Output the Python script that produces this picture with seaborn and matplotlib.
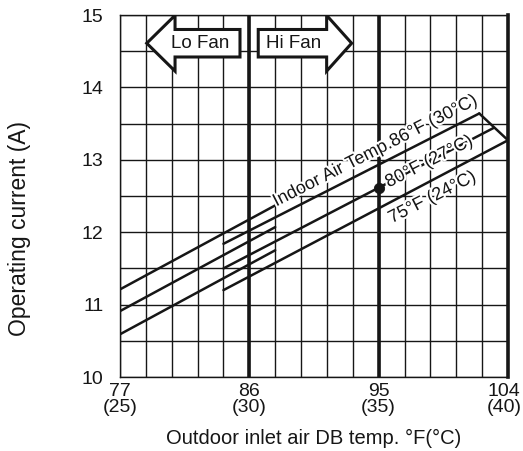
import math

import matplotlib
matplotlib.use("Agg")
import matplotlib.patheffects as pe
import matplotlib.pyplot as plt
import matplotlib.transforms as mtransforms
import numpy as np
import pandas as pd
import seaborn as sns

# Lo fan lines (outdoor fan low), 77°F .. 87.8°F
lo_fan_x = [77.0, 87.8]
lo_86_current = [11.21, 12.37]
lo_80_current = [10.91, 12.07]
lo_75_current = [10.59, 11.75]

# Hi fan lines, from 84.2°F up to the limit line
hi_86_x = [84.2, 102.0]
hi_86_current = [11.84, 13.64]
hi_80_x = [84.2, 103.0]
hi_80_current = [11.50, 13.44]
hi_75_x = [84.2, 104.0]
hi_75_current = [11.20, 13.27]

limit_x = [102.0, 104.0]
limit_current = [13.64, 13.27]

rated_x = [95.0]
rated_current = [12.61]

x_ticks_f = [77, 86, 95, 104]
x_ticks_c = [25, 30, 35, 40]
y_ticks = [10, 11, 12, 13, 14, 15]

INK = "#161616"


def build_frame() -> pd.DataFrame:
    segments = [
        ("lo86", lo_fan_x, lo_86_current),
        ("lo80", lo_fan_x, lo_80_current),
        ("lo75", lo_fan_x, lo_75_current),
        ("hi86", hi_86_x, hi_86_current),
        ("hi80", hi_80_x, hi_80_current),
        ("hi75", hi_75_x, hi_75_current),
        ("limit", limit_x, limit_current),
    ]
    rows = []
    for name, xs, ys in segments:
        for x, y in zip(xs, ys):
            rows.append({"segment": name, "outdoor_f": x, "current": y})
    return pd.DataFrame(rows)


def line_angle(ax, xs, ys) -> float:
    p1 = ax.transData.transform((xs[0], ys[0]))
    p2 = ax.transData.transform((xs[1], ys[1]))
    return math.degrees(math.atan2(p2[1] - p1[1], p2[0] - p1[0]))


def on_line(xs, ys, x):
    return ys[0] + (ys[1] - ys[0]) * (x - xs[0]) / (xs[1] - xs[0])


sns.set_theme(style="white")
plt.rcParams["font.family"] = ["Liberation Sans", "DejaVu Sans"]
plt.rcParams["text.color"] = INK

fig = plt.figure(figsize=(5.23, 4.51), dpi=100)
ax = fig.add_axes([120 / 523, 1 - 377 / 451, 388 / 523, 362 / 451])
ax.set_xlim(77, 104)
ax.set_ylim(10, 15)

# grid: every 1 °C horizontally, every 0.5 A vertically
ax.set_xticks(x_ticks_f)
ax.set_xticklabels([f"{f}\n({c})" for f, c in zip(x_ticks_f, x_ticks_c)], linespacing=0.95)
ax.set_xticks(np.arange(77, 104.01, 1.8), minor=True)
ax.set_yticks(y_ticks)
ax.set_yticks(np.arange(10, 15.01, 0.5), minor=True)
ax.grid(which="both", color=INK, linewidth=1.0)
ax.tick_params(which="both", length=0, labelsize=14, colors=INK)
ax.tick_params(axis="y", pad=12)
ax.tick_params(axis="x", pad=4)
# keep the last label inside the canvas
last = ax.get_xticklabels()[-1]
last.set_transform(last.get_transform()
                   + mtransforms.ScaledTranslation(-4 / 100, 0, fig.dpi_scale_trans))
for side, spine in ax.spines.items():
    spine.set_color(INK)
    spine.set_linewidth(1.0)
ax.spines["right"].set_linewidth(2.6)
for x in (86, 95):
    ax.axvline(x, color=INK, linewidth=2.6, zorder=2)

df = build_frame()
sns.lineplot(data=df, x="outdoor_f", y="current", units="segment", estimator=None,
             sort=False, color=INK, linewidth=1.8, ax=ax, zorder=3)
sns.scatterplot(x=rated_x, y=rated_current, color=INK, s=55, edgecolor=INK, ax=ax, zorder=5)

halo = [pe.withStroke(linewidth=3, foreground="white")]
ang = line_angle(ax, hi_86_x, hi_86_current)
ax.text(88.0, on_line(hi_86_x, hi_86_current, 88.0) + 0.08, "Indoor Air Temp.86°F (30°C)",
        rotation=ang, rotation_mode="anchor", ha="left", va="bottom", fontsize=13,
        path_effects=halo, zorder=4)
ax.text(95.55, on_line(hi_80_x, hi_80_current, 95.55), "80°F (27°C)",
        rotation=ang, rotation_mode="anchor", ha="left", va="center", fontsize=13,
        path_effects=halo, zorder=4)
ax.text(95.5, on_line(hi_75_x, hi_75_current, 95.5) - 0.1, "75°F (24°C)",
        rotation=ang, rotation_mode="anchor", ha="left", va="top", fontsize=13,
        path_effects=halo, zorder=4)

# fan arrows
arrow_kw = dict(width=0.38, head_width=0.77, length_includes_head=True, facecolor="white",
                edgecolor=INK, linewidth=2.2, joinstyle="miter", zorder=4)
ax.arrow(85.35, 14.61, -6.49, 0, head_length=1.97, **arrow_kw)
ax.arrow(86.62, 14.61, 6.5, 0, head_length=1.74, **arrow_kw)
ax.text(82.6, 14.6, "Lo Fan", ha="center", va="center", fontsize=13.5, zorder=5)
ax.text(89.05, 14.6, "Hi Fan", ha="center", va="center", fontsize=13.5, zorder=5)

ax.set_xlabel("Outdoor inlet air DB temp. °F(°C)", fontsize=14.5, color=INK)
ax.set_ylabel("Operating current (A)", fontsize=16.5, color=INK)
ax.xaxis.set_label_coords(0.5, (377 - 438) / 362)
ax.xaxis.label.set_va("center")
ax.yaxis.set_label_coords(-0.258, 0.41)
ax.yaxis.label.set_va("center")

fig.savefig("out.png", dpi=100, facecolor="white")
